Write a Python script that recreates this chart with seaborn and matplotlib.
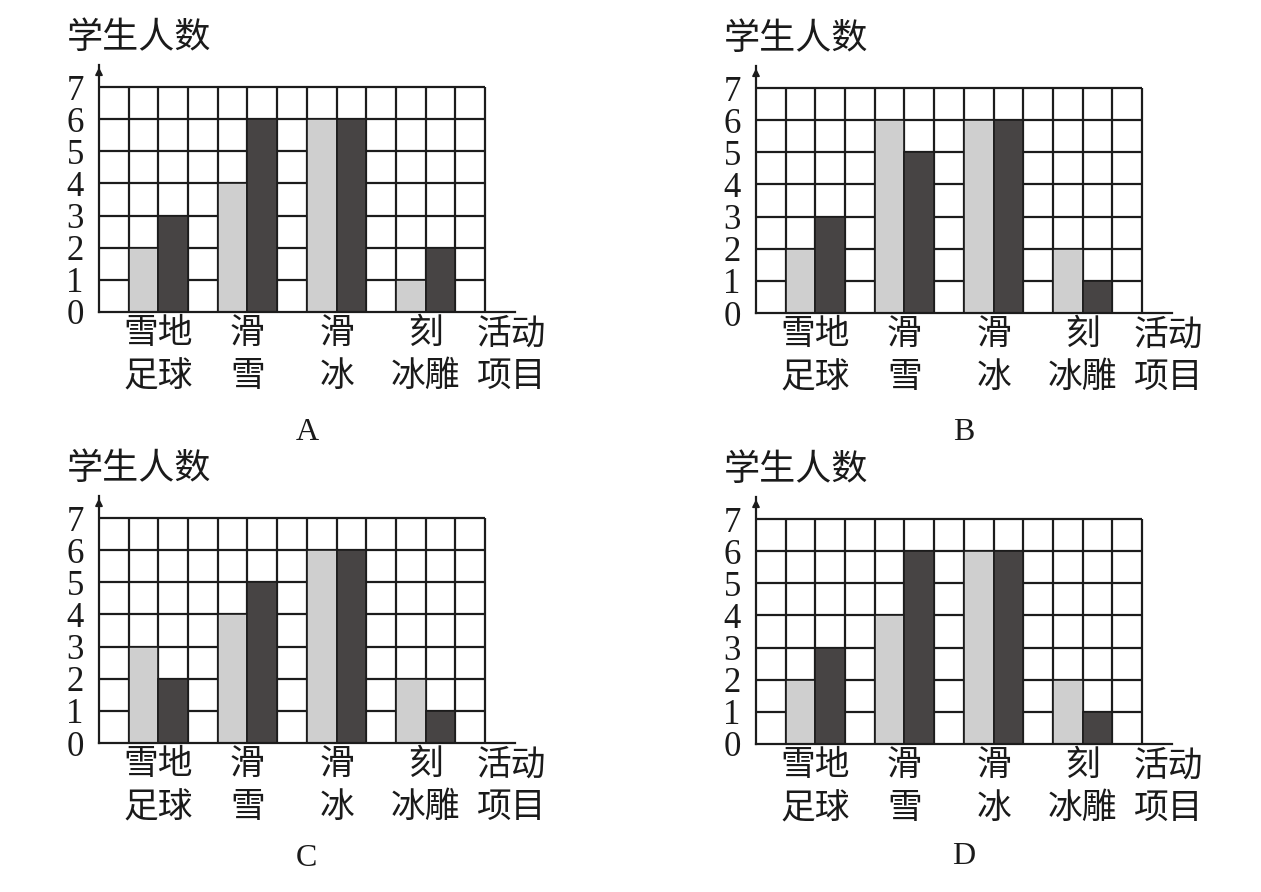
import numpy as np
import pandas as pd
import matplotlib
matplotlib.use('Agg')
import matplotlib.pyplot as plt
import seaborn as sns

# activities under each pair of bars
activities = ['雪地\n足球', '滑\n雪', '滑\n冰', '刻\n冰雕']
y_ticks = [0, 1, 2, 3, 4, 5, 6, 7]
y_title = '学生人数'
x_title = '活动\n项目'
panels = ['A', 'B', 'C', 'D']

# student counts per option (light bar, dark bar)
a_light = [2, 4, 6, 1]
a_dark = [3, 6, 6, 2]
b_light = [2, 6, 6, 2]
b_dark = [3, 5, 6, 1]
c_light = [3, 4, 6, 2]
c_dark = [2, 5, 6, 1]
d_light = [2, 4, 6, 2]
d_dark = [3, 6, 6, 1]

panel_data = {
    'A': (a_light, a_dark),
    'B': (b_light, b_dark),
    'C': (c_light, c_dark),
    'D': (d_light, d_dark),
}

# layout (pixels in a 1261x892 canvas)
W, H = 1261, 892
COL_W, ROW_H = 29.69, 32.14
N_COLS, N_ROWS = 13, 7
X_MAX, Y_MAX = 14, 7.7
slots = [2, 5, 8, 11]  # centre of each pair of bars on the grid
origins = {'A': (99, 312, 120), 'B': (756, 313, 120),
           'C': (99, 743, 115), 'D': (756, 744, 113)}

LINE = '#1c1c1c'
LIGHT = '#cfcfcf'
DARK = '#474444'
SERIF = 'Liberation Serif'
CJK = ['Noto Sans CJK SC', 'DejaVu Sans']

sns.set_theme(style='white')
plt.rcParams['font.family'] = CJK

fig = plt.figure(figsize=(W / 100, H / 100), dpi=100)

for name in panels:
    light, dark = panel_data[name]
    left, bottom, letter_off = origins[name]
    ax = fig.add_axes([left / W, (H - bottom) / H,
                       X_MAX * COL_W / W, Y_MAX * ROW_H / H])

    df = pd.DataFrame({
        'pos': slots + slots,
        'series': ['light'] * len(light) + ['dark'] * len(dark),
        'count': light + dark,
    })

    # grid
    ax.hlines(range(1, N_ROWS + 1), 0, N_COLS, color=LINE, lw=1.6, zorder=1)
    ax.vlines(range(1, N_COLS + 1), 0, N_ROWS, color=LINE, lw=1.6, zorder=1)

    sns.barplot(data=df, x='pos', y='count', hue='series',
                hue_order=['light', 'dark'],
                palette={'light': LIGHT, 'dark': DARK},
                native_scale=True, width=2 / 3, dodge=True, errorbar=None,
                edgecolor=LINE, linewidth=1.2, legend=False, zorder=3, ax=ax)

    ax.set_xlim(0, X_MAX)
    ax.set_ylim(0, Y_MAX)
    ax.set_xlabel('')
    ax.set_ylabel('')

    for side in ['top', 'right']:
        ax.spines[side].set_visible(False)
    for side in ['left', 'bottom']:
        ax.spines[side].set_color(LINE)
        ax.spines[side].set_linewidth(1.6)
        ax.spines[side].set_zorder(4)

    ax.set_yticks(y_ticks)
    ax.set_yticklabels([str(t) for t in y_ticks], fontfamily=SERIF, fontsize=25)
    ax.set_xticks(slots)
    ax.set_xticklabels(activities, fontsize=25, linespacing=1.3)
    ax.tick_params(axis='x', length=0, pad=3, colors='#1a1a1a')
    ax.tick_params(axis='y', length=0, pad=11, colors='#1a1a1a')

    # arrow at top of the vertical axis
    ax.annotate('', xy=(0, Y_MAX), xytext=(0, Y_MAX - 0.4),
                arrowprops=dict(arrowstyle='-|>', color=LINE, lw=1.2,
                                mutation_scale=11),
                annotation_clip=False)

    ax.annotate(y_title, xy=(0, 1), xycoords='axes fraction',
                xytext=(-23, 19), textcoords='offset points',
                ha='left', va='center', fontsize=26, color='#1a1a1a')
    ax.annotate(x_title, xy=(13.9, 0), xycoords='data',
                xytext=(0, -3), textcoords='offset points',
                ha='center', va='top', fontsize=25, linespacing=1.3,
                color='#1a1a1a', annotation_clip=False)
    ax.annotate(name, xy=(7, 0), xycoords='data',
                xytext=(0, -letter_off * 0.72), textcoords='offset points',
                ha='center', va='center', fontsize=23, fontfamily=SERIF,
                color='#1a1a1a', annotation_clip=False)

fig.savefig('out.png', dpi=100, facecolor='white')
